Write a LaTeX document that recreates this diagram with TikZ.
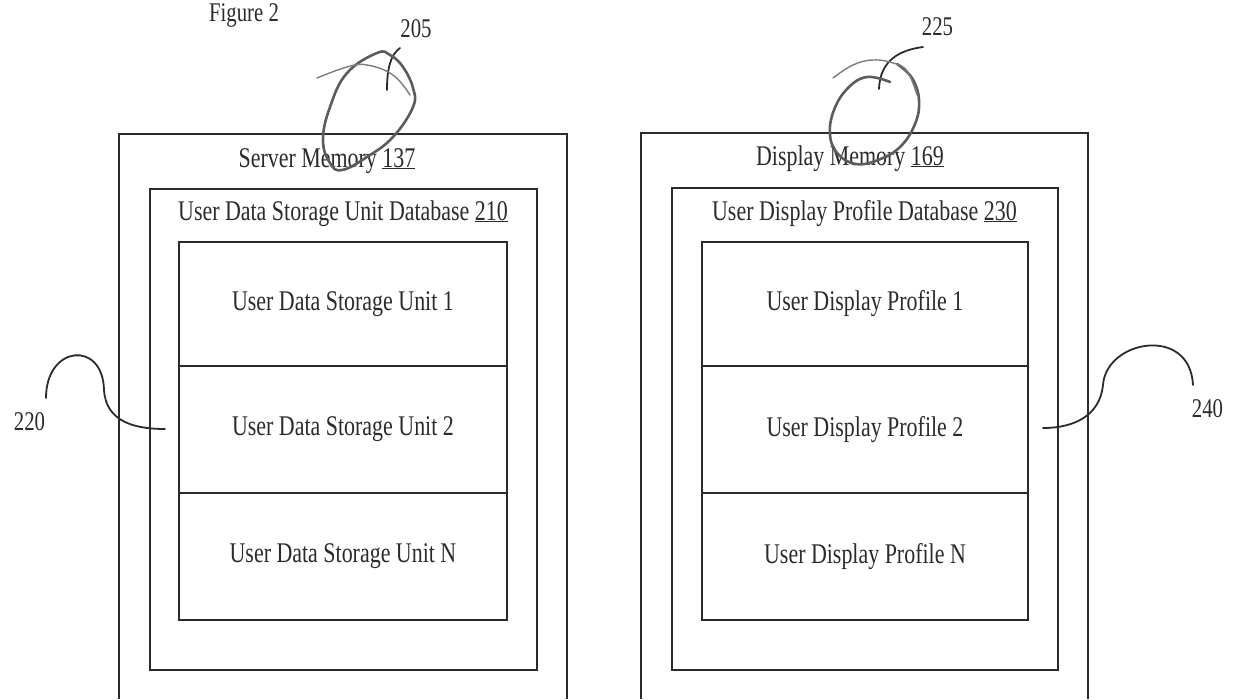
\documentclass[tikz,border=0pt]{standalone}
\usepackage{fontspec}
\setmainfont[FakeStretch=0.77]{Liberation Serif}
\definecolor{ink}{HTML}{2B2B2B}
\definecolor{pencil}{HTML}{5C5C5C}
\begin{document}
\begin{tikzpicture}[x=1pt,y=-1pt,
    every node/.style={font=\fontsize{28.5}{32}\selectfont, text=ink, inner sep=0pt},
    box/.style={draw=ink, line width=1.8pt},
    cell/.style={draw=ink, line width=1.8pt, minimum width=#1, anchor=north},
    refnum/.style={font=\fontsize{27}{30}\selectfont, anchor=base},
    heading/.style={anchor=base},
    leader/.style={draw=ink, line width=1.8pt, line cap=round},
    loop/.style={draw=pencil, line width=2.6pt, line cap=round},
    sketch/.style={draw=pencil!80, line width=1.4pt, line cap=round}]
\useasboundingbox (0,0) rectangle (1234,699);

% caption
\node[anchor=base, font=\fontsize{27}{30}\selectfont] (fig) at (244,21) {Figure 2};

% ---- server side ----
\draw[box] (119,699) |- (567,134) -- (567,699);
\draw[box] (150,189) rectangle (537,670);
\node[heading] (srvmem) at (327,167) {Server Memory \underline{137}};
\node[heading] (udsdb) at (343,220) {User Data Storage Unit Database \underline{210}};
\node[cell=328pt, minimum height=124pt] (uds1) at (343,241) {User Data Storage Unit 1};
\node[cell=328pt, minimum height=127pt] (uds2) at (343,365) {User Data Storage Unit 2};
\node[cell=328pt, minimum height=127pt] (udsn) at (343,492) {User Data Storage Unit N};

% ---- display side ----
\draw[box] (641,699) |- (1088,133) -- (1088,699);
\draw[box] (672,188) rectangle (1058,670);
\node[heading] (dspmem) at (850,165) {Display Memory \underline{169}};
\node[heading] (udpdb) at (864.5,220) {User Display Profile Database \underline{230}};
\node[cell=326pt, minimum height=124pt] (udp1) at (865,241) {User Display Profile 1};
\node[cell=326pt, minimum height=127pt] (udp2) at (865,365) {User Display Profile 2};
\node[cell=326pt, minimum height=127pt] (udpn) at (865,492) {User Display Profile N};

% ---- reference numerals ----
\node[refnum] (r205) at (416,37) {205};
\node[refnum] (r225) at (937.5,35) {225};
\node[refnum] (r220) at (29.5,430) {220};
\node[refnum] (r240) at (1207.5,417) {240};

\coordinate (s220) at (46,398);
\coordinate (e220) at (165,429);
\coordinate (s240) at (1193,385);
\coordinate (e240) at (1043,428);
\coordinate (s205) at (400,48);
\coordinate (e205) at (387,90);
\coordinate (s225) at (923,47);
\coordinate (e225) at (879,89);

\draw[leader] (s220) .. controls (46,345) and (103,340) .. (104,390)
              .. controls (106,422) and (135,429) .. (e220);
\draw[leader] (e240) .. controls (1075,428) and (1100,415) .. (1103,385)
              .. controls (1106,340) and (1190,325) .. (s240);
\draw[leader] (s205) .. controls (390,55) and (387,70) .. (e205);
\draw[leader] (s225) .. controls (900,50) and (880,60) .. (e225);

% ---- hand-drawn loops ----
\draw[loop] plot[smooth cycle, tension=0.7] coordinates {(377,53) (347,73) (330,107) (323,140) (330,163) (342,170) (367,157) (393,137) (413,107) (413,88) (403,67) (390,55)};
\draw[sketch] plot[smooth, tension=0.7] coordinates {(317,78) (347,67) (367,65) (393,75) (410,95)};

\draw[loop] plot[smooth, tension=0.7] coordinates {(890,82) (867,77) (848,88) (834,110) (830,135) (838,154) (856,164) (878,160) (900,147) (915,124) (919,100) (912,78) (897,64)};
\draw[sketch] plot[smooth, tension=0.7] coordinates {(833,78) (853,65) (873,60) (893,63) (907,71) (917,95)};
\end{tikzpicture}
\end{document}
